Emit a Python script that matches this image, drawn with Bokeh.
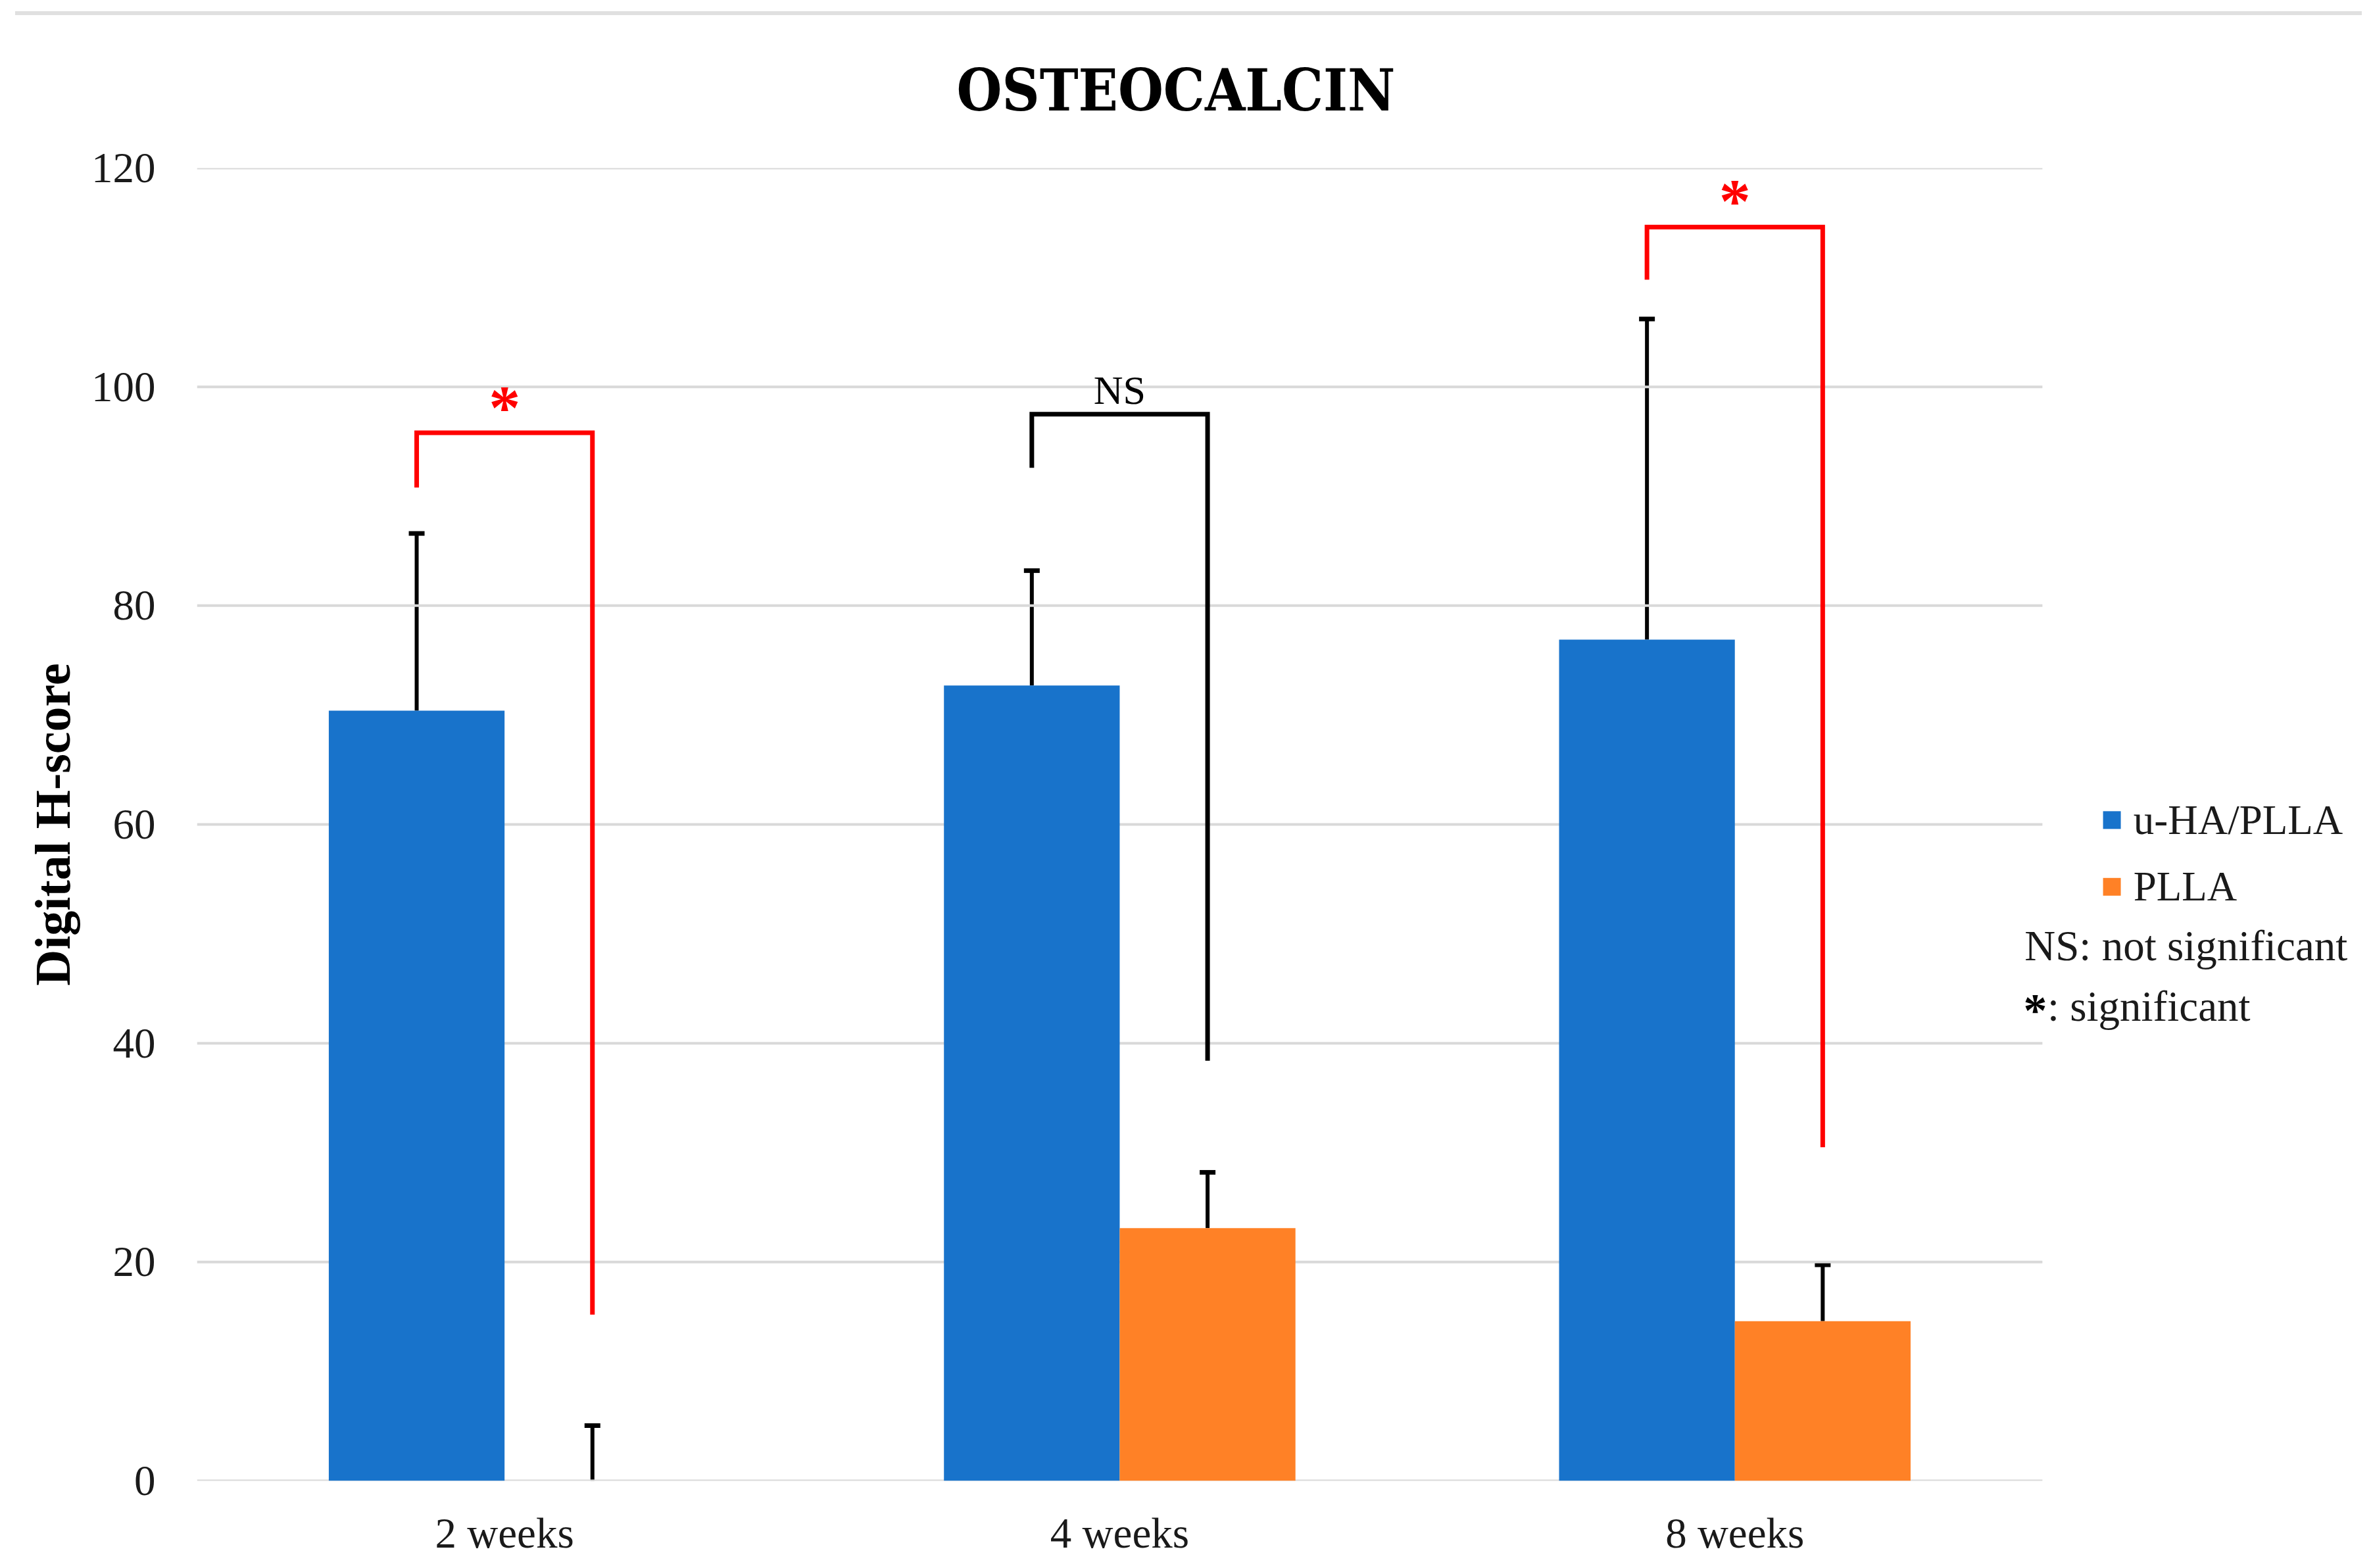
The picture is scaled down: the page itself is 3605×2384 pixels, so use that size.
from bokeh.plotting import figure
from bokeh.models import Range1d, FixedTicker, Whisker, TeeHead, ColumnDataSource, Div
from bokeh.layouts import column
from bokeh.core.properties import value
from bokeh.embed import file_html
from bokeh.resources import INLINE

# ---------------- data ----------------
categories = ["2 weeks", "4 weeks", "8 weeks"]
series_names = ["u-HA/PLLA", "PLLA"]
series_colors = ["#1873CB", "#FF8126"]
uha_mean = [70.4, 72.7, 76.9]
uha_err = [16.2, 10.5, 29.3]
plla_mean = [0.0, 23.1, 14.6]
plla_err = [5.05, 5.1, 5.15]
y_ticks = [0, 20, 40, 60, 80, 100, 120]

sig_labels = ["*", "NS", "*"]
sig_colors = ["#FF0000", "#000000", "#FF0000"]
bracket_left_low = [90.8, 92.6, 109.8]
bracket_top = [95.8, 97.5, 114.6]
bracket_right_low = [15.2, 38.4, 30.5]
sig_label_y = [98.7, 99.7, 117.6]

notes = ["NS: not significant", ": significant"]

title_text = "OSTEOCALCIN"
y_label = "Digital H-score"

# ---------------- layout constants ----------------
PAGE_SHIFT = 8
TOP_BAND = 1
FIG_Y = PAGE_SHIFT + TOP_BAND
W, H = 3589, 2368 - FIG_Y
FR_LEFT, FR_TOP, FR_BOTTOM = 299, 253 - FIG_Y, 2249 - FIG_Y
BAR_W = 1.0 / 3.5
OFF = BAR_W / 2
SERIF = "Liberation Serif"

header = Div(width=W, height=TOP_BAND,
             text='<div style="margin:12px 0 0 18px;width:3568px;height:6px;'
                  'background:#E0E0E0"></div>')

p = figure(width=W, height=H, output_backend="svg", toolbar_location=None,
           x_range=Range1d(0, (W - FR_LEFT) / 935.3), y_range=Range1d(0, 120),
           min_border_left=FR_LEFT, min_border_top=FR_TOP,
           min_border_bottom=H - FR_BOTTOM, min_border_right=0,
           title=title_text)
p.title.text_font = "DejaVu Serif Condensed"
p.title.text_font_style = "bold"
p.title.text_font_size = "88px"
p.title.text_color = "black"
p.title.align = "left"
p.title.vertical_align = "bottom"
p.title.offset = 1155
p.title.standoff = 134
p.outline_line_color = None
p.xgrid.visible = False
p.ygrid.visible = False
p.background_fill_color = "white"
p.border_fill_color = None

# gridlines (drawn only across the category area)
p.segment(x0=[0] * len(y_ticks), x1=[len(categories)] * len(y_ticks),
          y0=y_ticks, y1=y_ticks, line_color="#D9D9D9", line_width=4)

# axes
yax = p.yaxis[0]
yax.ticker = FixedTicker(ticks=y_ticks)
yax.axis_line_color = None
yax.major_tick_line_color = None
yax.minor_tick_line_color = None
yax.major_label_text_font = SERIF
yax.major_label_text_font_size = "65px"
yax.major_label_text_color = "#1a1a1a"
yax.major_label_standoff = 57
yax.axis_label = y_label
yax.axis_label_text_font = SERIF
yax.axis_label_text_font_style = "bold"
yax.axis_label_text_font_size = "76px"
yax.axis_label_text_color = "#000000"
yax.axis_label_standoff = 14

cat_x = [i + 0.5 for i in range(len(categories))]
xax = p.xaxis[0]
xax.ticker = FixedTicker(ticks=cat_x)
xax.major_label_overrides = {cx: c for cx, c in zip(cat_x, categories)}
xax.axis_line_color = None
xax.major_tick_line_color = None
xax.minor_tick_line_color = None
xax.major_label_text_font = SERIF
xax.major_label_text_font_size = "65px"
xax.major_label_text_color = "#1a1a1a"
xax.major_label_standoff = 37

# bars
x_uha = [c - OFF for c in cat_x]
x_plla = [c + OFF for c in cat_x]
p.vbar(x=x_uha, top=uha_mean, bottom=0, width=BAR_W,
       fill_color=series_colors[0], line_color=None)
p.vbar(x=x_plla, top=plla_mean, bottom=0, width=BAR_W,
       fill_color=series_colors[1], line_color=None)

# error bars (upper only)
for xs, m, e in ((x_uha, uha_mean, uha_err), (x_plla, plla_mean, plla_err)):
    src = ColumnDataSource(dict(base=xs, lower=m, upper=[a + b for a, b in zip(m, e)]))
    w = Whisker(source=src, base="base", lower="lower", upper="upper",
                line_color="black", line_width=6,
                upper_head=TeeHead(size=24, line_width=7, line_color="black"),
                lower_head=None)
    p.add_layout(w)

# significance brackets
bx, by = [], []
for i in range(len(categories)):
    xl, xr = x_uha[i], x_plla[i]
    bx.append([xl, xl, xr, xr])
    by.append([bracket_left_low[i], bracket_top[i], bracket_top[i], bracket_right_low[i]])
p.multi_line(xs=bx, ys=by, line_color=sig_colors, line_width=7,
             line_join="miter", line_cap="butt")

mid_x = [(a + b) / 2 for a, b in zip(x_uha, x_plla)]
for i, lab in enumerate(sig_labels):
    is_star = lab == "*"
    p.text(x=[mid_x[i]], y=[sig_label_y[i] - (0.6 if is_star else 0)], text=[lab],
           text_color=sig_colors[i], text_align="center", text_baseline="middle",
           text_font=value(SERIF),
           text_font_style="bold" if is_star else "normal",
           text_font_size="96px" if is_star else "62px")

# legend (manual, outside category area)
leg_y = [60.4, 54.3]
p.scatter(x=[3.113, 3.113], y=leg_y, marker="square", size=27,
          fill_color=series_colors, line_color=None)
p.text(x=[3.148, 3.148], y=leg_y, text=series_names, text_baseline="middle",
       text_align="left", text_font=value(SERIF), text_font_size="63px",
       text_color="#1a1a1a")
p.text(x=[2.971], y=[48.9], text=[notes[0]], text_baseline="middle", text_align="left",
       text_font=value(SERIF), text_font_size="65px", text_color="#1a1a1a")
p.text(x=[2.969], y=[43.0], text=["*"], text_baseline="middle", text_align="left",
       text_font=value(SERIF), text_font_style="bold", text_font_size="72px",
       text_color="#000000")
p.text(x=[3.008], y=[43.4], text=[notes[1]], text_baseline="middle", text_align="left",
       text_font=value(SERIF), text_font_size="65px", text_color="#1a1a1a")

layout = column(header, p, spacing=0)
open("out.html", "w").write(file_html(layout, INLINE))
